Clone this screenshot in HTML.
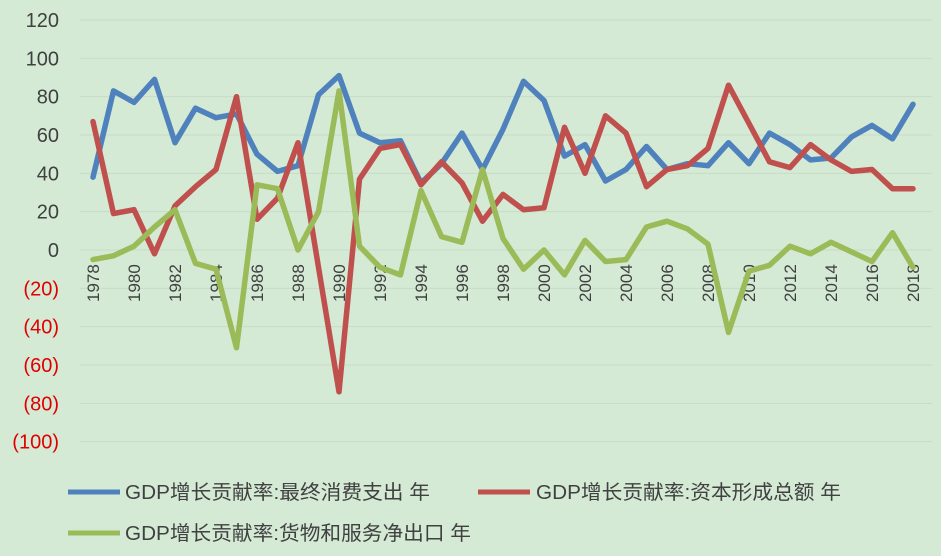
<!DOCTYPE html>
<html><head><meta charset="utf-8"><style>
html,body{margin:0;padding:0;background:#d4ead5;}
svg{display:block;font-family:"Liberation Sans","Noto Sans CJK SC",sans-serif;}
</style></head><body>
<svg id="c" width="941" height="556" viewBox="0 0 941 556" xmlns="http://www.w3.org/2000/svg">
<rect width="941" height="556" fill="#d4ead5"/>
<g id="grid" stroke="#c6dcc7" stroke-width="1"></g>
<g id="ylab" font-size="20" text-anchor="end"></g>
<g id="xlab" font-size="17" fill="#404040"></g>
<g id="lines" fill="none" stroke-width="5.5" stroke-linejoin="round" stroke-linecap="round"></g>
<g font-size="20" fill="#404040">
<line x1="68" y1="492" x2="120" y2="492" stroke="#4f81bd" stroke-width="5"/>
<text x="125" y="499" textLength="305" lengthAdjust="spacingAndGlyphs">GDP增长贡献率:最终消费支出 年</text>
<line x1="478" y1="492" x2="530" y2="492" stroke="#c0504d" stroke-width="5"/>
<text x="536" y="499" textLength="305" lengthAdjust="spacingAndGlyphs">GDP增长贡献率:资本形成总额 年</text>
<line x1="68" y1="533" x2="120" y2="533" stroke="#9bbb59" stroke-width="5"/>
<text x="125" y="540" textLength="346" lengthAdjust="spacingAndGlyphs">GDP增长贡献率:货物和服务净出口 年</text>
</g>
</svg>
<script>
var NS="http://www.w3.org/2000/svg";
function Y(v){return 250-v*1.9167;}
function X(i){return 93+i*20.5;}
function el(p,t,a,txt){var e=document.createElementNS(NS,t);for(var k in a)e.setAttribute(k,a[k]);if(txt!=null)e.textContent=txt;document.getElementById(p).appendChild(e);}
for(var v=120;v>=-100;v-=20){
 el("grid","line",{x1:80,x2:932,y1:Y(v),y2:Y(v)});
 el("ylab","text",{x:59,y:Y(v)+7,fill:v<0?"#e00000":"#404040"},v<0?"("+(-v)+")":String(v));
}
for(var y=1978;y<=2018;y+=2){var x=X(y-1978)+6;el("xlab","text",{x:x,y:302,transform:"rotate(-90 "+x+" 302)"},String(y));}
var blue=[38,83,77,89,56,74,69,71,50,41,44,81,91,61,56,57,35,45,61,42,63,88,78,49,55,36,42,54,42,45,44,56,45,61,55,47,48,59,65,58,76];
var red=[67,19,21,-2,23,33,42,80,16,27,56,-9,-74,37,53,55,34,46,35,15,29,21,22,64,40,70,61,33,42,44,53,86,66,46,43,55,47,41,42,32,32];
var green=[-5,-3,2,12,21,-7,-10,-51,34,32,0,20,83,2,-9,-13,31,7,4,42,6,-10,0,-13,5,-6,-5,12,15,11,3,-43,-11,-8,2,-2,4,-1,-6,9,-9];
[[blue,"#4f81bd"],[red,"#c0504d"],[green,"#9bbb59"]].forEach(function(s){
 el("lines","polyline",{stroke:s[1],points:s[0].map(function(v,i){return X(i).toFixed(1)+","+Y(v).toFixed(1);}).join(" ")});
});
</script>
</body></html>
